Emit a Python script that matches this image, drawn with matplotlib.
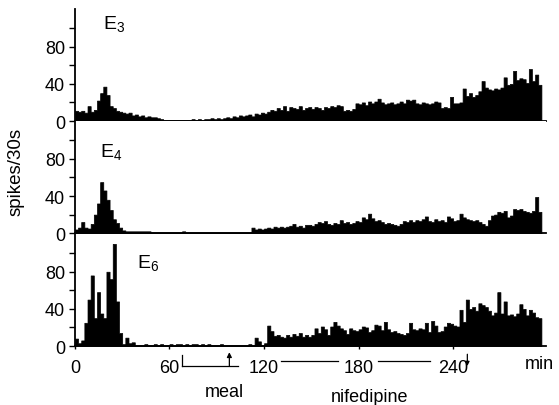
import numpy as np
import matplotlib.pyplot as plt
import matplotlib.transforms as mtransforms

plt.rcParams['font.family'] = ['Liberation Sans', 'DejaVu Sans']

# spikes per 30 s, averaged over 2 min bins, bins start at 0 min
bin_width = 2
e3 = [11, 10, 11, 9, 16, 10, 12, 22, 30, 37, 28, 16, 14, 11, 10, 9, 8, 9, 6, 7,
      5, 6, 4, 5, 4, 4, 3, 2, 1, 1, 1, 1, 1, 1, 1, 1, 1, 2, 1, 2,
      1, 2, 2, 3, 2, 3, 2, 3, 4, 3, 5, 4, 6, 5, 6, 7, 5, 8, 7, 9,
      8, 10, 12, 11, 14, 12, 16, 11, 15, 14, 13, 16, 12, 14,
      15, 13, 15, 14, 12, 15, 14, 16, 15, 17, 16, 11, 12, 11, 13, 19, 18, 20, 17, 21,
      19, 21, 24, 20, 18, 19, 20, 18, 19, 21, 19, 23, 22, 23, 19, 18, 20, 19, 18, 19,
      21, 20, 14, 15, 14, 26, 19, 19, 20, 35, 27, 30, 26, 28, 32, 43, 36, 34, 33, 35,
      34, 36, 47, 39, 40, 54, 44, 46, 45, 41, 56, 43, 50, 39]
e4 = [4, 6, 12, 6, 5, 10, 20, 32, 55, 46, 36, 25, 15, 11, 6, 3, 2, 2, 2, 2,
      2, 2, 2, 2, 1, 1, 1, 1, 1, 1, 1, 1, 1, 1, 2, 1, 1, 1, 1, 1,
      1, 1, 1, 1, 1, 1, 1, 1, 1, 1, 1, 1, 1, 1, 1, 1, 6, 4, 5, 4,
      5, 6, 5, 7, 6, 7, 6, 7, 8, 10, 7, 8, 6, 9,
      9, 8, 10, 12, 11, 13, 10, 9, 11, 10, 14, 11, 12, 10, 11, 13, 12, 17, 15, 21,
      16, 13, 14, 12, 10, 11, 10, 9, 8, 10, 13, 12, 14, 12, 14, 13, 15, 18, 13, 12,
      15, 13, 14, 12, 18, 16, 13, 14, 21, 17, 15, 14, 13, 14, 12, 10, 8, 14, 19, 20,
      23, 22, 24, 17, 19, 26, 25, 26, 24, 23, 22, 24, 39, 23]
e6 = [8, 3, 6, 25, 50, 76, 30, 58, 35, 30, 80, 72, 110, 48, 14, 2, 9, 3, 4, 1,
      1, 1, 2, 1, 1, 2, 1, 2, 1, 1, 2, 1, 2, 2, 1, 2, 1, 2, 2, 1,
      2, 1, 2, 1, 1, 1, 2, 1, 1, 1, 1, 1, 1, 1, 1, 2, 1, 9, 5, 1,
      3, 22, 16, 11, 12, 10, 9, 12, 10, 13, 11, 14, 10, 12,
      10, 12, 19, 14, 21, 18, 12, 21, 26, 22, 19, 17, 13, 19, 17, 16, 18, 21, 20, 15,
      17, 23, 22, 17, 26, 18, 15, 16, 14, 13, 12, 14, 25, 18, 17, 19, 18, 25, 15, 27,
      22, 15, 16, 21, 25, 24, 22, 21, 39, 26, 50, 40, 42, 38, 46, 44, 42, 38, 33, 36,
      58, 35, 48, 33, 34, 32, 35, 45, 40, 33, 39, 36, 31, 30]
series = [('3', e3), ('4', e4), ('6', e6)]

xticks = [0, 60, 120, 180, 240]
meal_start, meal_end, meal_arrow = 68, 103.5, 98
nif_lines = [(131, 167), (192, 225)]
nif_end = 249

fig = plt.figure(figsize=(5.59, 4.06), dpi=100)
left, width = 0.134, 0.843
bottoms = [0.6995, 0.4232, 0.1453]
height = 0.2767
label_pos = [(0.059, 0.82), (0.053, 0.685), (0.132, 0.70)]

axes = []
for i, (sub, vals) in enumerate(series):
    ax = fig.add_axes([left, bottoms[i], width, height])
    edges = np.arange(len(vals) + 1) * bin_width
    y = np.append(vals, vals[-1])
    ax.fill_between(edges, 0, y, step='post', facecolor='black',
                    edgecolor='black', linewidth=0.5, snap=False)
    ax.set_xlim(0, 299)
    ax.set_ylim(0, 121)
    for s in ['top', 'right']:
        ax.spines[s].set_visible(False)
    for s in ['left', 'bottom']:
        ax.spines[s].set_linewidth(1.3)
    ax.set_yticks([0, 40, 80])
    ax.set_yticks([20, 60, 100], minor=True)
    ax.tick_params(axis='y', which='both', direction='out', length=4, width=1,
                   labelsize=13, pad=3)
    ax.set_xticks(xticks)
    if i < 2:
        ax.tick_params(axis='x', length=0, labelbottom=False)
    else:
        ax.tick_params(axis='x', direction='out', length=2, width=1,
                       labelsize=13, pad=7)
    lx, ly = label_pos[i]
    ax.text(lx, ly, r'E$_{\mathregular{' + sub + '}}$', transform=ax.transAxes,
            fontsize=14, ha='left', va='baseline')
    axes.append(ax)

fig.text(0.029, 0.576, 'spikes/30s', rotation=90, fontsize=13.5,
         ha='center', va='center')

ax = axes[-1]
trans = mtransforms.blended_transform_factory(ax.transData, fig.transFigure)
ax.text(295, 0.101, 'min', transform=trans, fontsize=13, ha='center', va='center')

# meal marker
ax.plot([meal_start, meal_end], [0.096, 0.096], color='black', lw=0.9,
        transform=trans, clip_on=False)
ax.plot([meal_start, meal_start], [0.096, 0.122], color='black', lw=0.9,
        transform=trans, clip_on=False)
ax.annotate('', xy=(meal_arrow, 0.13), xytext=(meal_arrow, 0.096),
            xycoords=trans, textcoords=trans,
            arrowprops=dict(arrowstyle='-|>', color='black', lw=0.9,
                            mutation_scale=7, shrinkA=0, shrinkB=0))
ax.text(95, 0.034, 'meal', transform=trans, fontsize=13, ha='center', va='center')

# nifedipine marker
for a, b in nif_lines:
    ax.plot([a, b], [0.108, 0.108], color='black', lw=0.9,
            transform=trans, clip_on=False)
ax.annotate('', xy=(nif_end, 0.096), xytext=(nif_end, 0.125),
            xycoords=trans, textcoords=trans,
            arrowprops=dict(arrowstyle='-|>', color='black', lw=0.9,
                            mutation_scale=6, shrinkA=0, shrinkB=0))
ax.text(187, 0.022, 'nifedipine', transform=trans, fontsize=13,
        ha='center', va='center')

fig.savefig('out.png', dpi=100)
